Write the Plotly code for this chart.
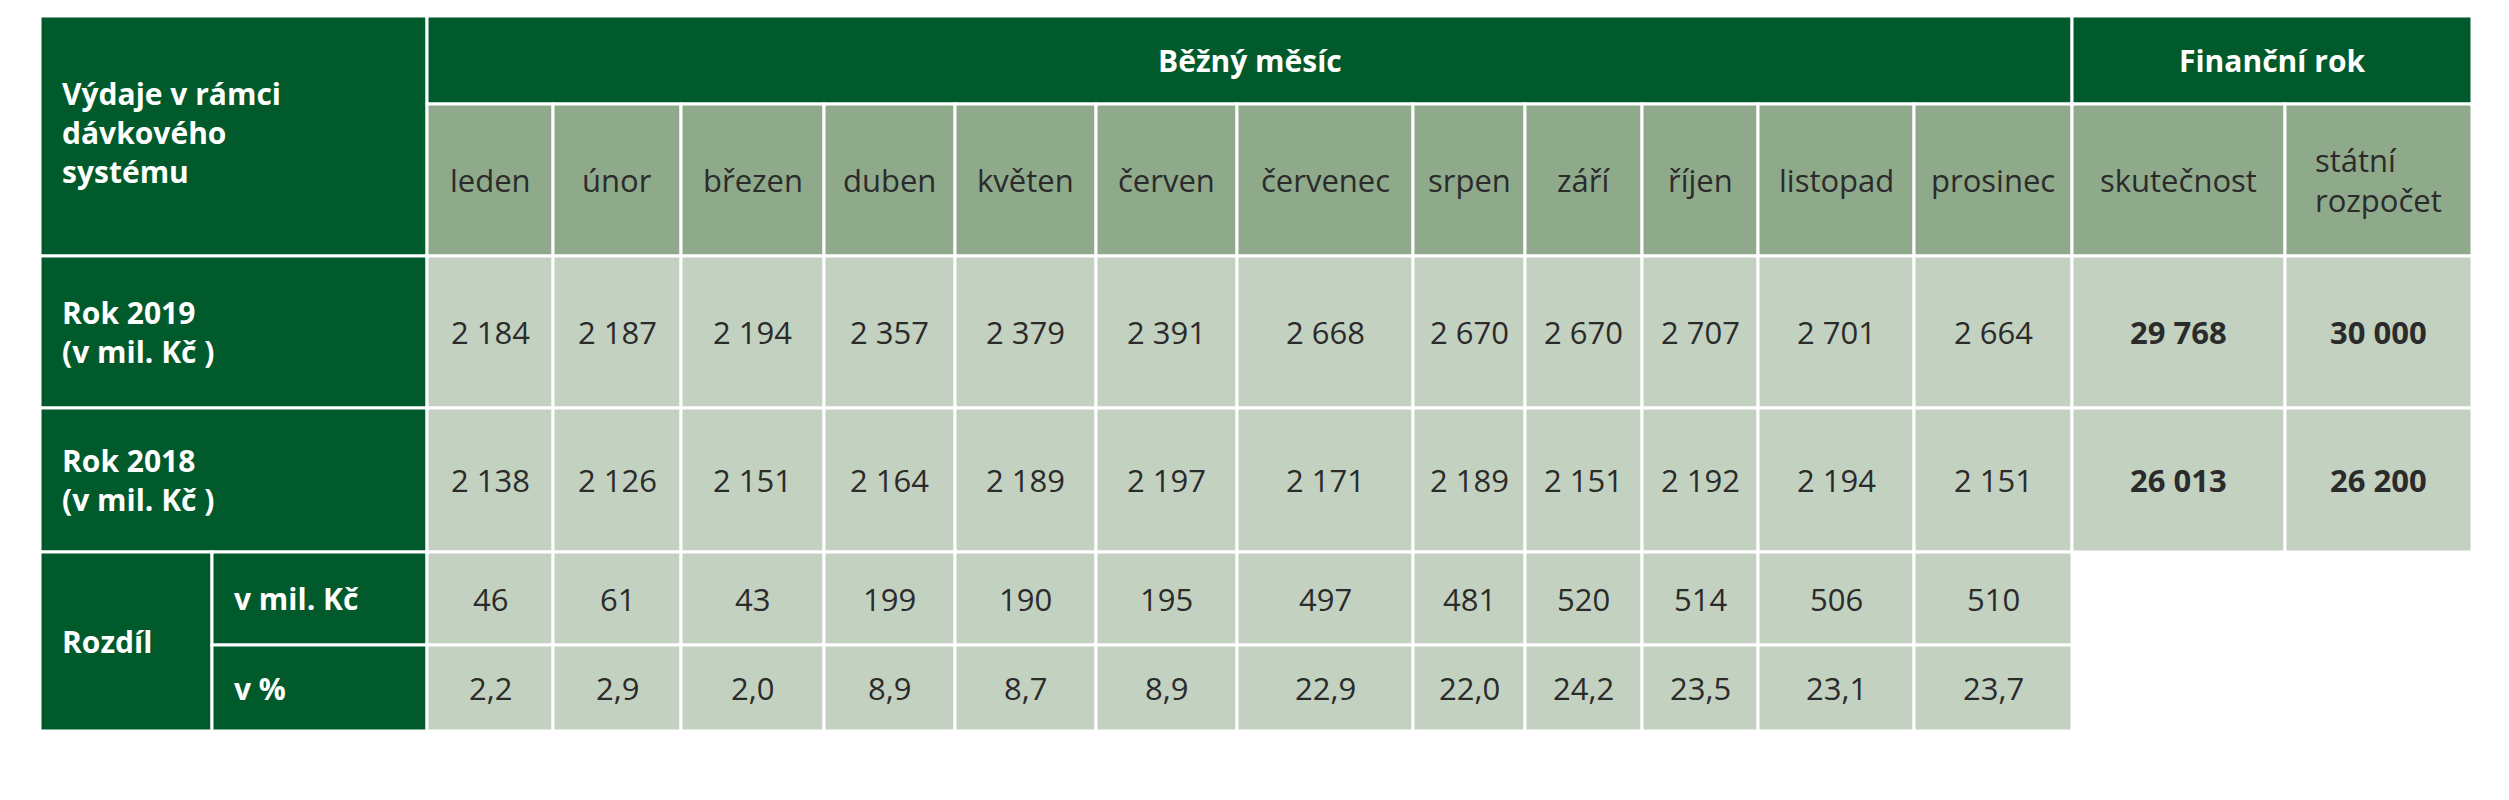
import plotly.graph_objects as go

months = ["leden", "únor", "březen", "duben", "květen", "červen", "červenec",
          "srpen", "září", "říjen", "listopad", "prosinec"]
fin_cols = ["skutečnost", "státní<br>rozpočet"]
rok_2019 = [2184, 2187, 2194, 2357, 2379, 2391, 2668, 2670, 2670, 2707, 2701, 2664]
rok_2018 = [2138, 2126, 2151, 2164, 2189, 2197, 2171, 2189, 2151, 2192, 2194, 2151]
fin_2019 = [29768, 30000]
fin_2018 = [26013, 26200]
rozdil_abs = [46, 61, 43, 199, 190, 195, 497, 481, 520, 514, 506, 510]
rozdil_pct = [2.2, 2.9, 2.0, 8.9, 8.7, 8.9, 22.9, 22.0, 24.2, 23.5, 23.1, 23.7]

# layout in pixels
col_x = [32, 419, 545, 673, 816, 947, 1088, 1229, 1405, 1517, 1634, 1750, 1906, 2064, 2277, 2464]
split_x = 204
row_y = [8, 96, 248, 400, 544, 637, 723]

DARK = "#005a2b"
HEAD = "#8fa98b"
CELL = "#c3d1c0"
TXT = "#2b2b2b"
FONT = "Open Sans"

def fmt(v):
    return f"{v:,}".replace(",", " ")

shapes, annots = [], []

def cell(x0, x1, y0, y1, fill, text="", color=TXT, bold=False, size=31, xanchor="center", pad=0):
    shapes.append(dict(type="rect", x0=x0, x1=x1, y0=y0, y1=y1, fillcolor=fill,
                       line=dict(color="white", width=3), layer="below"))
    if text:
        x = (x0 + x1) / 2 if xanchor == "center" else x0 + pad
        annots.append(dict(x=x, y=(y0 + y1) / 2, text=f"<b>{text}</b>" if bold else text,
                           showarrow=False, xanchor=xanchor, yanchor="middle", align="left",
                           font=dict(family=FONT, size=size, color=color)))

# header
cell(col_x[0], col_x[1], row_y[0], row_y[2], DARK)
annots.append(dict(x=col_x[0] + 20, y=(row_y[0] + row_y[2]) / 2 - 4,
                   text="<b>Výdaje v rámci<br>dávkového<br>systému</b>", showarrow=False,
                   xanchor="left", yanchor="middle", align="left",
                   font=dict(family=FONT, size=30, color="white")))
cell(col_x[1], col_x[13], row_y[0], row_y[1], DARK, "Běžný měsíc", "white", True, 30)
cell(col_x[13], col_x[15], row_y[0], row_y[1], DARK, "Finanční rok", "white", True, 30)
for i, m in enumerate(months):
    cell(col_x[i + 1], col_x[i + 2], row_y[1], row_y[2], HEAD, m)
for j, f in enumerate(fin_cols):
    cell(col_x[13 + j], col_x[14 + j], row_y[1], row_y[2], HEAD, f)

# year rows
for r, (label, vals, fin) in enumerate([("Rok 2019<br>(v mil. Kč )", rok_2019, fin_2019),
                                        ("Rok 2018<br>(v mil. Kč )", rok_2018, fin_2018)]):
    y0, y1 = row_y[2 + r], row_y[3 + r]
    cell(col_x[0], col_x[1], y0, y1, DARK, label, "white", True, 30, "left", 20)
    for i, v in enumerate(vals):
        cell(col_x[i + 1], col_x[i + 2], y0, y1, CELL, fmt(v))
    for j, v in enumerate(fin):
        cell(col_x[13 + j], col_x[14 + j], y0, y1, CELL, fmt(v), bold=True)

# difference rows
cell(col_x[0], split_x, row_y[4], row_y[6], DARK, "Rozdíl", "white", True, 30, "left", 20)
for r, (label, vals) in enumerate([("v mil. Kč", [str(v) for v in rozdil_abs]),
                                   ("v %", [f"{v:.1f}".replace(".", ",") for v in rozdil_pct])]):
    y0, y1 = row_y[4 + r], row_y[5 + r]
    cell(split_x, col_x[1], y0, y1, DARK, label, "white", True, 30, "left", 20)
    for i, v in enumerate(vals):
        cell(col_x[i + 1], col_x[i + 2], y0, y1, CELL, v)

fig = go.Figure()
fig.update_layout(width=2509, height=800, margin=dict(l=0, r=0, t=0, b=0),
                  plot_bgcolor="white", paper_bgcolor="white",
                  shapes=shapes, annotations=annots, showlegend=False,
                  xaxis=dict(range=[0, 2509], visible=False, fixedrange=True),
                  yaxis=dict(range=[800, 0], visible=False, fixedrange=True))
fig.write_html("out.html")
